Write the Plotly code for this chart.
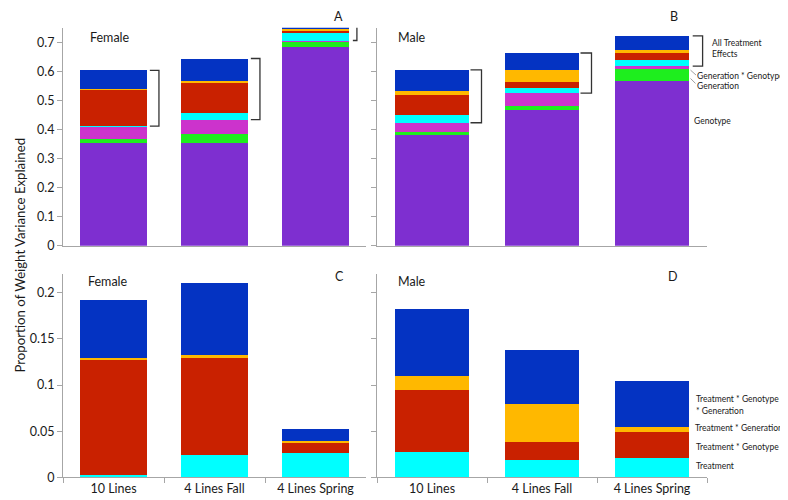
import plotly.graph_objects as go

categories = ["10 Lines", "4 Lines Fall", "4 Lines Spring"]

# Non-treatment components (top panels)
female_genotype = [0.354, 0.354, 0.684]
female_generation = [0.012, 0.031, 0.018]
female_gen_x_geno = [0.045, 0.049, 0.004]
male_genotype = [0.380, 0.468, 0.565]
male_generation = [0.011, 0.014, 0.042]
male_gen_x_geno = [0.032, 0.043, 0.011]

# Treatment components (bottom panels, also stacked on top panels)
female_treatment = [0.002, 0.024, 0.026]
female_trt_x_geno = [0.125, 0.105, 0.011]
female_trt_x_gen = [0.002, 0.004, 0.002]
female_trt_x_geno_x_gen = [0.063, 0.077, 0.013]
male_treatment = [0.027, 0.019, 0.021]
male_trt_x_geno = [0.068, 0.019, 0.028]
male_trt_x_gen = [0.015, 0.041, 0.006]
male_trt_x_geno_x_gen = [0.072, 0.059, 0.049]

C_GENO = "#7E2FD0"
C_GEN = "#1EEE1E"
C_GXG = "#CC33CC"
C_TRT = "#00FFFF"
C_TXG = "#C92100"
C_TXGEN = "#FFB800"
C_TXGXG = "#0433C2"

FONT = "Lato"
W, H = 788, 500

fig = go.Figure()

def add_stack(series, xa, ya):
    for vals, col in series:
        fig.add_trace(go.Bar(x=categories, y=vals, marker=dict(color=col, line=dict(width=0)),
                             xaxis=xa, yaxis=ya, showlegend=False, hoverinfo="y"))

f_trt = [(female_treatment, C_TRT), (female_trt_x_geno, C_TXG), (female_trt_x_gen, C_TXGEN),
         (female_trt_x_geno_x_gen, C_TXGXG)]
m_trt = [(male_treatment, C_TRT), (male_trt_x_geno, C_TXG), (male_trt_x_gen, C_TXGEN),
         (male_trt_x_geno_x_gen, C_TXGXG)]

add_stack([(female_genotype, C_GENO), (female_generation, C_GEN), (female_gen_x_geno, C_GXG)] + f_trt, "x", "y")
add_stack([(male_genotype, C_GENO), (male_generation, C_GEN), (male_gen_x_geno, C_GXG)] + m_trt, "x2", "y2")
add_stack(f_trt, "x3", "y3")
add_stack(m_trt, "x4", "y4")

def px_x(p):
    return p / W

def px_y(p):
    return 1 - p / H

axis_col = "#A6A6A6"
txt_col = "#1a1a1a"

xdomA = [px_x(55), px_x(358)]
xdomB = [px_x(369), px_x(699)]
ydomT = [px_y(241), px_y(20)]
ydomB = [px_y(476), px_y(270)]

common_x = dict(type="category", showline=True, linecolor=axis_col, linewidth=1, showgrid=False,
                zeroline=False, tickfont=dict(family=FONT, size=12.5, color=txt_col))
common_y = dict(showline=True, linecolor=axis_col, linewidth=1, showgrid=False, zeroline=False,
                ticks="outside", ticklen=5, tickcolor=axis_col,
                tickfont=dict(family=FONT, size=12.5, color=txt_col))

fig.update_layout(
    width=W, height=H, margin=dict(l=0, r=0, t=0, b=0),
    paper_bgcolor="white", plot_bgcolor="white",
    barmode="stack", bargap=0.33, showlegend=False,
    font=dict(family=FONT, color=txt_col),
    xaxis=dict(common_x, domain=xdomA, anchor="y", showticklabels=False, ticks=""),
    xaxis2=dict(common_x, domain=xdomB, anchor="y2", showticklabels=False, ticks=""),
    xaxis3=dict(common_x, domain=xdomA, anchor="y3", ticks="outside", tickson="boundaries",
                ticklen=5, tickcolor=axis_col),
    xaxis4=dict(common_x, domain=xdomB, anchor="y4", ticks="outside", tickson="boundaries",
                ticklen=5, tickcolor=axis_col),
    yaxis=dict(common_y, domain=ydomT, anchor="x", range=[0, 0.75],
               tickvals=[0, 0.1, 0.2, 0.3, 0.4, 0.5, 0.6, 0.7],
               ticktext=["0", "0.1", "0.2", "0.3", "0.4", "0.5", "0.6", "0.7"]),
    yaxis2=dict(common_y, domain=ydomT, anchor="x2", range=[0, 0.75],
                tickvals=[0, 0.1, 0.2, 0.3, 0.4, 0.5, 0.6, 0.7], showticklabels=False),
    yaxis3=dict(common_y, domain=ydomB, anchor="x3", range=[0, 0.22],
                tickvals=[0, 0.05, 0.1, 0.15, 0.2], ticktext=["0", "0.05", "0.1", "0.15", "0.2"]),
    yaxis4=dict(common_y, domain=ydomB, anchor="x4", range=[0, 0.22],
                tickvals=[0, 0.05, 0.1, 0.15, 0.2], showticklabels=False),
)

# Brackets marking all treatment effects on the top panels
def brackets(genos, gens, gxgs, trts, xref, yref, offsets):
    for i in range(len(categories)):
        base = genos[i] + gens[i] + gxgs[i]
        top = base + sum(t[0][i] for t in trts)
        a, b = offsets[i]
        fig.add_shape(type="path", xref=xref, yref=yref,
                      path=f"M {i + a},{top} L {i + b},{top} L {i + b},{base} L {i + a},{base}",
                      line=dict(color="#333333", width=1.3))

brackets(female_genotype, female_generation, female_gen_x_geno, f_trt, "x", "y",
         [(0.36, 0.45), (0.36, 0.45), (0.37, 0.41)])
brackets(male_genotype, male_generation, male_gen_x_geno, m_trt, "x2", "y2",
         [(0.35, 0.45), (0.35, 0.45), (0.37, 0.46)])

# Leader lines for right-side labels
for (x0, y0, x1, y1) in [(682.5, 63, 688, 68), (682.5, 71.5, 687.5, 76.5)]:
    fig.add_shape(type="line", xref="paper", yref="paper",
                  x0=px_x(x0), y0=px_y(y0), x1=px_x(x1), y1=px_y(y1),
                  line=dict(color="#888888", width=0.8))

def ann(text, x, y, size=12.5, xanchor="center"):
    fig.add_annotation(text=text, x=px_x(x), y=px_y(y), xref="paper", yref="paper",
                       showarrow=False, xanchor=xanchor, yanchor="middle",
                       font=dict(family=FONT, size=size, color=txt_col), align="left",
                       borderpad=0)

ann("Female", 102, 30)
ann("Male", 404, 30)
ann("A", 330, 8.5)
ann("B", 666, 8.5)
ann("Female", 100, 277)
ann("Male", 404, 277)
ann("C", 331, 272)
ann("D", 665, 272)

s = 8.5
ann("All Treatment", 703, 35, s, "left")
ann("Effects", 703, 47, s, "left")
ann("Generation * Genotype", 687.5, 68.5, s, "left")
ann("Generation", 687.5, 79, s, "left")
ann("Genotype", 685, 115, s, "left")

ann("Treatment * Genotype", 686.5, 397, s, "left")
ann("* Generation", 686.5, 409, s, "left")
ann("Treatment * Generation", 685.5, 426, s, "left")
ann("Treatment * Genotype", 686.5, 445, s, "left")
ann("Treatment", 686.5, 464, s, "left")

fig.add_annotation(text="Proportion of Weight Variance Explained", x=px_x(12), y=px_y(251),
                   xref="paper", yref="paper", showarrow=False, textangle=-90,
                   xanchor="center", yanchor="middle",
                   font=dict(family=FONT, size=13.2, color=txt_col))

fig.write_html("out.html")
